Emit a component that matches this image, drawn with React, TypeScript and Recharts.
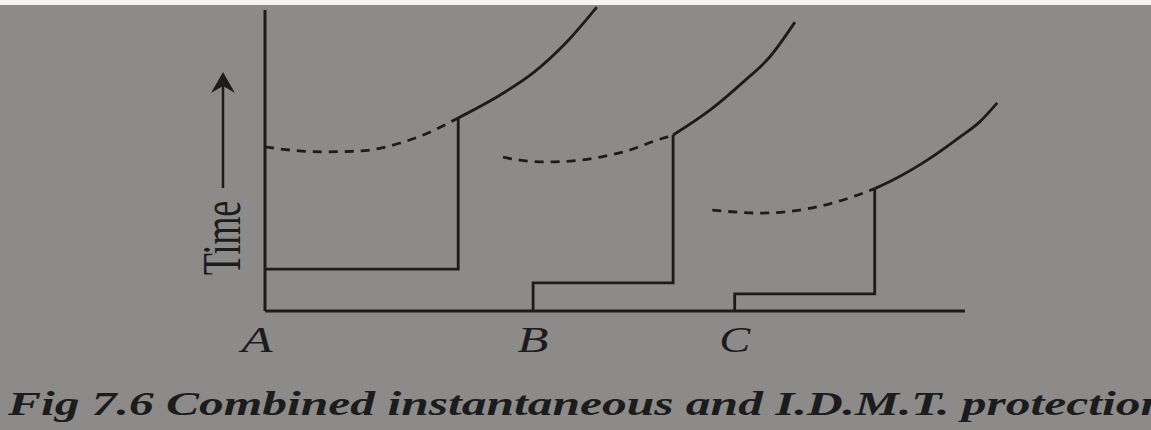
import { LineChart, Line, XAxis, YAxis, ReferenceLine } from 'recharts';

// relay locations along the feeder (current axis, arbitrary units)
const relayLabels = ['A', 'B', 'C'];
const relayPositions = [0, 38.3, 67.1];

// instantaneous element (flat steps)
const instA = [
  { x: 0, y: 13.7 },
  { x: 27.6, y: 13.7 },
  { x: 27.6, y: 63.1 },
];
const instB = [
  { x: 38.3, y: 0 },
  { x: 38.3, y: 9.2 },
  { x: 58.3, y: 9.2 },
  { x: 58.3, y: 57.5 },
];
const instC = [
  { x: 67.1, y: 0 },
  { x: 67.1, y: 5.6 },
  { x: 87.1, y: 5.6 },
  { x: 87.1, y: 40 },
];

// IDMT curve, part overridden by the instantaneous element (dashed)
const idmtHiddenA = [
  { x: 0, y: 53.6 },
  { x: 3.6, y: 52.6 },
  { x: 7.9, y: 52.0 },
  { x: 13.6, y: 52.3 },
  { x: 19.3, y: 54.9 },
  { x: 23.6, y: 58.5 },
  { x: 27.6, y: 63.1 },
];
const idmtHiddenB = [
  { x: 34, y: 50.3 },
  { x: 36.4, y: 49.3 },
  { x: 40, y: 48.7 },
  { x: 43.6, y: 49.0 },
  { x: 47.9, y: 50.3 },
  { x: 52.1, y: 52.6 },
  { x: 55.7, y: 55.6 },
  { x: 58.3, y: 57.5 },
];
const idmtHiddenC = [
  { x: 63.9, y: 33.0 },
  { x: 70.7, y: 32.0 },
  { x: 76.4, y: 33.0 },
  { x: 81.1, y: 35.3 },
  { x: 84.3, y: 37.6 },
  { x: 87.1, y: 40 },
];

// IDMT curve, active part (solid)
const idmtA = [
  { x: 27.6, y: 63.1 },
  { x: 33.6, y: 70.6 },
  { x: 38.3, y: 77.8 },
  { x: 43.1, y: 87.9 },
  { x: 47.4, y: 99.3 },
];
const idmtB = [
  { x: 58.3, y: 57.5 },
  { x: 63.6, y: 65.7 },
  { x: 68.3, y: 74.8 },
  { x: 72.1, y: 83.0 },
  { x: 75.7, y: 94.4 },
];
const idmtC = [
  { x: 87.1, y: 40 },
  { x: 89.7, y: 42.8 },
  { x: 94.6, y: 49.3 },
  { x: 99.3, y: 56.9 },
  { x: 102.1, y: 61.8 },
  { x: 104.6, y: 68.0 },
];

const timeAxisTop = 98.4;
const currentAxisEnd = 100;

const caption = 'Fig 7.6 Combined instantaneous and I.D.M.T. protection';

const INK = '#1c1c1c';
const PAPER = '#8c8b89';
const SERIF = '"Liberation Serif", "DejaVu Serif", serif';

function RelayTick({ x, y, payload }: any) {
  const i = relayPositions.indexOf(payload.value);
  const dx = i === 0 ? -8 : 0;
  return (
    <text
      x={x + dx}
      y={y}
      dy={41}
      textAnchor="middle"
      fill={INK}
      fontFamily={SERIF}
      fontStyle="italic"
      fontSize={36}
      textLength={31}
      lengthAdjust="spacingAndGlyphs"
    >
      {relayLabels[i]}
    </text>
  );
}

function TimeLabel() {
  return (
    <g>
      <text
        transform="translate(240,238) scale(1.5,1) rotate(-90)"
        textAnchor="middle"
        fill={INK}
        fontFamily={SERIF}
        fontSize={36}
      >
        Time
      </text>
      <line x1={223} y1={188} x2={223} y2={82} stroke={INK} strokeWidth={2.5} />
      <path d="M223,72 L235,93 L223,86 L211,93 Z" fill={INK} />
    </g>
  );
}

const solid = { stroke: INK, strokeWidth: 2.8, dot: false, activeDot: false, isAnimationActive: false } as const;

export default function App() {
  return (
    <div
      style={{
        position: 'absolute',
        left: 0,
        top: 0,
        width: 1151,
        height: 430,
        overflow: 'hidden',
        background: PAPER,
        borderTop: '5px solid #f4f4f2',
        boxSizing: 'border-box',
      }}
    >
      <div style={{ position: 'absolute', left: 0, top: -5 }}>
        <LineChart width={1151} height={361} margin={{ top: 5, right: 116, left: 0, bottom: 0 }}>
          <XAxis
            type="number"
            dataKey="x"
            domain={[0, 110]}
            ticks={relayPositions}
            interval={0}
            axisLine={false}
            tickLine={false}
            tickSize={0}
            tickMargin={0}
            height={50}
            tick={<RelayTick />}
          />
          <YAxis
            type="number"
            dataKey="y"
            domain={[0, 100]}
            width={265}
            axisLine={false}
            tickLine={false}
            tick={false}
            label={TimeLabel}
          />
          <ReferenceLine
            segment={[{ x: 0, y: 0 }, { x: 0, y: timeAxisTop }]}
            stroke={INK}
            strokeWidth={3}
          />
          <ReferenceLine
            segment={[{ x: 0, y: 0 }, { x: currentAxisEnd, y: 0 }]}
            stroke={INK}
            strokeWidth={3}
          />
          <Line data={instA} dataKey="y" type="linear" {...solid} />
          <Line data={instB} dataKey="y" type="linear" {...solid} />
          <Line data={instC} dataKey="y" type="linear" {...solid} />
          <Line data={idmtHiddenA} dataKey="y" type="monotone" {...solid} strokeDasharray="9 7" />
          <Line data={idmtHiddenB} dataKey="y" type="monotone" {...solid} strokeDasharray="9 7" />
          <Line data={idmtHiddenC} dataKey="y" type="monotone" {...solid} strokeDasharray="9 7" />
          <Line data={idmtA} dataKey="y" type="monotone" {...solid} />
          <Line data={idmtB} dataKey="y" type="monotone" {...solid} />
          <Line data={idmtC} dataKey="y" type="monotone" {...solid} />
        </LineChart>
      </div>
      <svg
        width={1151}
        height={69}
        style={{ position: 'absolute', left: 0, top: 356 }}
      >
        <text
          x={8}
          y={54}
          fill={INK}
          fontFamily={SERIF}
          fontStyle="italic"
          fontWeight="bold"
          fontSize={33}
          textLength={1160}
          lengthAdjust="spacingAndGlyphs"
        >
          {caption}
        </text>
      </svg>
    </div>
  );
}
